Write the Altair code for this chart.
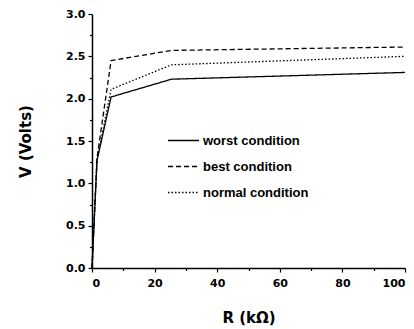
import altair as alt
import pandas as pd

r_kohm = [0, 1.6, 6.1, 25.4, 100]
worst = [0, 1.27, 2.02, 2.23, 2.31]
best = [0, 1.30, 2.45, 2.57, 2.61]
normal = [0, 1.28, 2.11, 2.40, 2.50]
series = ["worst condition", "best condition", "normal condition"]

rows = []
for name, vals in zip(series, [worst, best, normal]):
    for x, v in zip(r_kohm, vals):
        rows.append({"R": x, "V": v, "cond": name})
df = pd.DataFrame(rows)

x_vals = [0, 10, 20, 30, 40, 50, 60, 70, 80, 90, 100]
y_vals = [0, 0.25, 0.5, 0.75, 1.0, 1.25, 1.5, 1.75, 2.0, 2.25, 2.5, 2.75, 3.0]

chart = alt.Chart(df).mark_line(
    color="black", strokeWidth=1.3,
).encode(
    x=alt.X("R:Q", scale=alt.Scale(domain=[0, 100], nice=False),
            axis=alt.Axis(
                title="R (kΩ)", values=x_vals,
                labelExpr="datum.value % 20 == 0 ? format(datum.value, 'd') : ''",
                tickSize={"condition": {"test": "datum.value % 20 != 0", "value": 2.5}, "value": 4},
                labelPadding=5, titlePadding=22)),
    y=alt.Y("V:Q", scale=alt.Scale(domain=[0, 3], nice=False),
            axis=alt.Axis(
                title="V (Volts)", values=y_vals,
                labelExpr="(datum.value * 2) % 1 == 0 ? format(datum.value, '.1f') : ''",
                tickSize={"condition": {"test": "(datum.value * 2) % 1 != 0", "value": 2.5}, "value": 4},
                labelPadding=3, titlePadding=32)),
    strokeDash=alt.StrokeDash(
        "cond:N",
        scale=alt.Scale(domain=series, range=[[1, 0], [5, 3], [1.5, 2]]),
        sort=series,
        legend=alt.Legend(
            title=None, orient="none", legendX=75, legendY=110,
            symbolType="stroke", symbolSize=960, symbolStrokeWidth=1.3,
            symbolStrokeColor="black", symbolOpacity=1,
            labelFont="Liberation Sans", labelFontWeight="bold", labelFontSize=13,
            labelColor="black", rowPadding=2, labelOffset=3)),
).properties(
    width=313, height=254,
    autosize=alt.AutoSizeParams(type="none"),
    padding={"left": 92, "top": 14, "right": 9, "bottom": 61},
).configure_view(stroke=None).configure_axis(
    domainColor="black", domainWidth=1.5, tickColor="black", tickWidth=1.2,
    grid=False, labelFont="DejaVu Sans", labelFontWeight="bold", labelFontSize=11,
    labelColor="black", titleFont="DejaVu Sans", titleFontWeight="bold",
    titleFontSize=15, titleColor="black",
)

chart.save("out.html", embed_options={"renderer": "svg", "actions": False})
